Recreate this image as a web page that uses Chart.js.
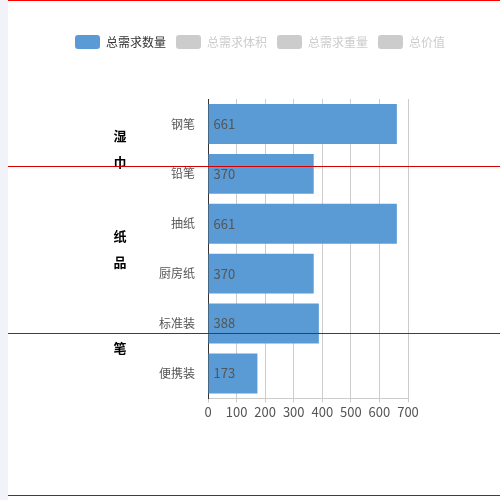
<!DOCTYPE html>
<html>
<head>
<meta charset="utf-8">
<script src="https://cdn.jsdelivr.net/npm/chart.js@4/dist/chart.umd.min.js"></script>
<style>
    html, body { margin: 0; padding: 0; background: #f2f3f8; }
    #caja { position: absolute; left: 8px; top: 0; width: 492px; height: 500px; background: #fff; }
    .raya { position: absolute; left: 8px; width: 492px; height: 1px; background: #d40000; z-index: 2; }
</style>
</head>
<body>
<div id="caja"><canvas id="grafica" width="492" height="500"></canvas></div>
<div class="raya" style="top:0; background:#ff0000;"></div>
<div class="raya" style="top:166px;"></div>
<div class="raya" style="top:333px;"></div>
<div class="raya" style="top:495px;"></div>
<script>
const productos = ["钢笔", "铅笔", "抽纸", "厨房纸", "标准装", "便携装"];
const grupos = ["湿巾", "纸品", "笔"];
const productosPorGrupo = [2, 2, 2];
const cantidad = [661, 370, 661, 370, 388, 173];
const series = ["总需求数量", "总需求体积", "总需求重量", "总价值"];
const ticksX = [0, 100, 200, 300, 400, 500, 600, 700];

const azul = "#5b9bd5";
const gris = "#cccccc";
const fuente = "'Noto Sans CJK SC', 'Noto Sans', sans-serif";

// la leyenda se centra en todo el ancho y se sube un poco
const moverLeyenda = {
    id: "moverLeyenda",
    afterLayout(chart) {
        const leyenda = chart.legend;
        leyenda.left = 12;
        leyenda.right = chart.width;
        leyenda.top -= 40;
        leyenda.bottom -= 40;
    }
};

// etiquetas de valor dentro de la barra y nombres de grupo a la izquierda
const extras = {
    id: "extras",
    afterDatasetsDraw(chart) {
        const ctx = chart.ctx;
        const meta = chart.getDatasetMeta(0);
        ctx.save();
        ctx.font = "13px " + fuente;
        ctx.fillStyle = "#555";
        ctx.textAlign = "left";
        ctx.textBaseline = "middle";
        meta.data.forEach((barra, i) => {
            ctx.fillText(cantidad[i], barra.base + 5, barra.y);
        });

        const escalaY = chart.scales.y;
        ctx.font = "bold 13px " + fuente;
        ctx.fillStyle = "#000";
        ctx.textAlign = "center";
        let inicio = 0;
        grupos.forEach((grupo, g) => {
            const fin = inicio + productosPorGrupo[g] - 1;
            const centro = (escalaY.getPixelForValue(inicio) + escalaY.getPixelForValue(fin)) / 2;
            const letras = grupo.split("");
            const paso = 26;
            letras.forEach((letra, k) => {
                ctx.fillText(letra, 112, centro + (k - (letras.length - 1) / 2) * paso);
            });
            inicio = fin + 1;
        });
        ctx.restore();
    }
};

const ctxGrafica = document.getElementById("grafica");
new Chart(ctxGrafica, {
    type: "bar",
    data: {
        labels: productos,
        datasets: [
            { label: series[0], data: cantidad, backgroundColor: azul, barPercentage: 0.8, categoryPercentage: 1 },
            { label: series[1], data: [], backgroundColor: gris, hidden: true },
            { label: series[2], data: [], backgroundColor: gris, hidden: true },
            { label: series[3], data: [], backgroundColor: gris, hidden: true }
        ]
    },
    options: {
        indexAxis: "y",
        responsive: false,
        animation: false,
        layout: { padding: { top: 65, right: 92, bottom: 78, left: 0 } },
        plugins: {
            tooltip: { enabled: false },
            legend: {
                position: "top",
                labels: {
                    boxWidth: 25,
                    boxHeight: 14,
                    padding: 10,
                    useBorderRadius: true,
                    borderRadius: 3,
                    font: { family: fuente, size: 12 },
                    generateLabels(chart) {
                        return chart.data.datasets.map((ds, i) => {
                            const visible = chart.isDatasetVisible(i);
                            return {
                                text: ds.label,
                                fillStyle: visible ? azul : gris,
                                strokeStyle: visible ? azul : gris,
                                lineWidth: 0,
                                fontColor: visible ? "#333" : gris,
                                hidden: false,
                                datasetIndex: i,
                                borderRadius: 3
                            };
                        });
                    }
                }
            }
        },
        scales: {
            x: {
                min: 0,
                max: 700,
                afterBuildTicks: (escala) => { escala.ticks = ticksX.map((v) => ({ value: v })); },
                grid: { color: "#cccccc", tickLength: 4 },
                border: { color: "#cccccc" },
                ticks: { color: "#555", font: { family: fuente, size: 13 }, padding: 2, maxRotation: 0 }
            },
            y: {
                afterFit: (escala) => { escala.width = 200; },
                grid: { display: false },
                border: { color: "#333333", width: 1 },
                ticks: { color: "#555", font: { family: fuente, size: 12 }, padding: 5 }
            }
        }
    },
    plugins: [moverLeyenda, extras]
});
</script>
</body>
</html>
